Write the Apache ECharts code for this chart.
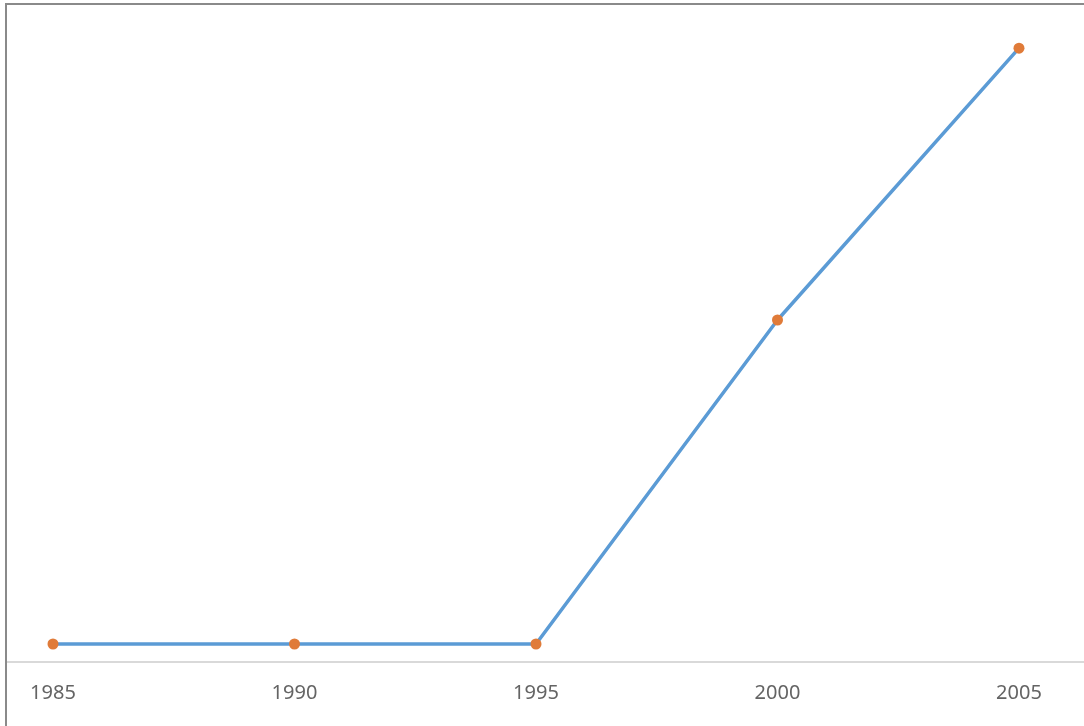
<!DOCTYPE html>
<html>
<head>
<meta charset="utf-8">
<script src="https://cdn.jsdelivr.net/npm/echarts@6/dist/echarts.min.js"></script>
<style>
html,body{margin:0;padding:0;background:#fff;}
#wrap{position:relative;width:1084px;height:726px;overflow:hidden;}
#chart{position:absolute;left:0;top:0;width:1084px;height:726px;}
#frame{position:absolute;left:5px;top:3px;right:-10px;bottom:-10px;border-top:2px solid #8a8a8a;border-left:2px solid #8a8a8a;pointer-events:none;}
</style>
</head>
<body>
<div id="wrap"><div id="chart"></div><div id="frame"></div></div>
<script>
const years = [1985, 1990, 1995, 2000, 2005];
const values = [1, 1, 1, 19, 34.1];

const chart = echarts.init(document.getElementById('chart'), null, {renderer: 'canvas'});
chart.setOption({
  animation: false,
  backgroundColor: '#ffffff',
  grid: {left: 7, right: 0, top: 14, bottom: 64, containLabel: false},
  xAxis: {
    type: 'value',
    min: 1984.048,
    max: 2006.346,
    splitLine: {show: false},
    axisTick: {show: false},
    axisLine: {show: true, lineStyle: {color: '#d9d9d9', width: 2}},
    axisLabel: {
      customValues: years,
      formatter: v => String(v),
      color: '#646464',
      fontSize: 20,
      fontFamily: 'Noto Sans',
      margin: 21
    }
  },
  yAxis: {
    type: 'value',
    min: 0,
    max: 36,
    show: false
  },
  series: [{
    type: 'line',
    data: years.map((y, i) => [y, values[i]]),
    lineStyle: {color: '#5b9bd5', width: 3.5},
    itemStyle: {color: '#e07b39', borderWidth: 0},
    symbol: 'circle',
    symbolSize: 11,
    showSymbol: true
  }]
});
</script>
</body>
</html>
